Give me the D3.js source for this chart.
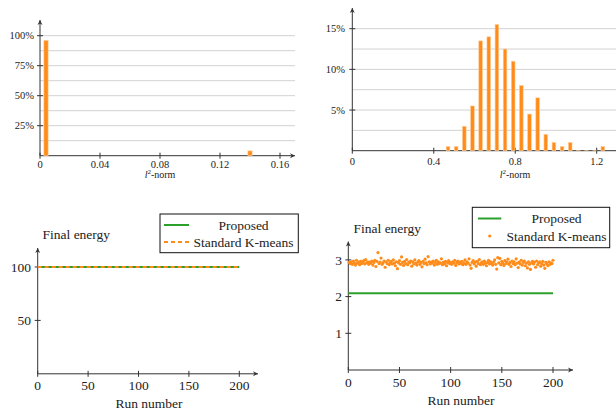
<!DOCTYPE html>
<html>
<head>
<meta charset="utf-8">
<script src="https://cdn.jsdelivr.net/npm/d3@7"></script>
<style>
  body { margin: 0; background: #fff; }
</style>
</head>
<body>
<script>
// histogram of l2-norm, proposed method (percent of runs)
var normBinsA = [0.004, 0.14];
var normPctA = [96, 4];
var normTicksA = [0, 0.04, 0.08, 0.12, 0.16];
var pctTicksA = [25, 50, 75, 100];

// histogram of l2-norm, standard k-means
var normBinsB = [0.47, 0.51, 0.55, 0.59, 0.63, 0.67, 0.71, 0.75, 0.79, 0.83,
                 0.87, 0.91, 0.95, 0.99, 1.03, 1.07, 1.11, 1.15, 1.19, 1.23];
var normPctB = [0.5, 0.5, 3, 5.5, 13.5, 14, 15.5, 12.5, 11, 8,
                4.5, 6.5, 2, 1, 0.5, 1, 0, 0, 0, 0.5];
var normTicksB = [0, 0.4, 0.8, 1.2];
var pctTicksB = [5, 10, 15];

// final energy, first data set
var runEnds = [0, 200];
var energyProposedA = [100, 100];
var energyKmeansA = [100, 100];

// final energy, second data set
var energyProposedB = [2.09, 2.09];
var energyKmeansB = [
  2.93, 2.90, 2.95, 2.88, 2.97, 2.92, 2.86, 2.99, 2.91, 2.94,
  2.87, 2.96, 2.90, 2.93, 2.98, 2.89, 3.01, 2.92, 2.95, 2.88,
  2.94, 2.91, 2.97, 2.86, 2.93, 2.99, 2.82, 2.96, 3.20, 2.90,
  2.94, 3.05, 2.88, 2.92, 2.97, 2.80, 2.95, 2.90, 2.99, 2.87,
  2.93, 2.96, 2.89, 3.00, 2.91, 2.84, 2.95, 2.76, 2.92, 2.98,
  2.88, 3.08, 2.93, 2.85, 2.96, 2.90, 3.01, 2.87, 2.94, 2.92,
  2.97, 2.83, 2.95, 2.89, 3.00, 2.91, 2.86, 2.94, 2.98, 2.88,
  2.93, 2.81, 2.96, 2.90, 3.02, 2.92, 2.87, 3.09, 2.95, 2.89,
  2.94, 2.91, 2.97, 2.86, 2.93, 2.99, 2.88, 2.95, 2.90, 2.92,
  3.03, 2.87, 2.94, 2.89, 2.96, 2.84, 2.92, 2.98, 2.90, 2.93,
  2.88, 2.95, 2.91, 2.99, 2.85, 2.93, 2.97, 2.89, 2.94, 2.90,
  2.96, 2.87, 2.92, 3.00, 2.88, 2.95, 2.91, 3.03, 2.86, 2.77,
  2.93, 2.98, 2.89, 2.94, 2.83, 2.96, 2.90, 3.01, 2.87, 2.92,
  2.95, 2.88, 2.97, 2.91, 2.84, 2.93, 2.99, 2.89, 2.95, 2.90,
  2.86, 2.94, 3.00, 2.88, 2.75, 3.06, 2.92, 3.04, 2.87, 2.96,
  2.91, 2.85, 2.98, 2.90, 2.94, 3.02, 2.88, 2.93, 2.82, 2.97,
  2.90, 2.95, 2.87, 3.03, 2.91, 2.79, 2.94, 2.89, 2.99, 2.86,
  2.93, 2.97, 2.84, 2.91, 2.78, 2.95, 2.88, 2.74, 2.92, 2.96,
  2.89, 2.94, 2.80, 2.97, 2.87, 2.92, 2.95, 2.83, 2.90, 2.96,
  2.86, 2.77, 2.93, 2.89, 2.84, 2.95, 2.88, 2.92, 2.90, 2.99
];
var runTicks = [0, 50, 100, 150, 200];
var energyTicksA = [50, 100];
var energyTicksB = [1, 2, 3];

var orange = "#ff8c1a", green = "#2ca02c", axisCol = "#333", gridCol = "#d2d2d2";

var svg = d3.select("body").append("svg")
    .attr("width", 616).attr("height", 412);

// little arrow heads at the end of the axes
function arrowRight(x, y) {
  svg.append("path").attr("d", "M" + (x - 5) + "," + (y - 2.5) + "L" + x + "," + y + "L" + (x - 5) + "," + (y + 2.5) + "L" + (x - 3.5) + "," + y + "Z")
     .attr("fill", axisCol);
}
function arrowUp(x, y) {
  svg.append("path").attr("d", "M" + (x - 2.5) + "," + (y + 5) + "L" + x + "," + y + "L" + (x + 2.5) + "," + (y + 5) + "L" + x + "," + (y + 3.5) + "Z")
     .attr("fill", axisCol);
}

function drawAxes(o) {
  var g = svg.append("g");
  var x0 = o.x.range()[0], y0 = o.y.range()[0];
  // horizontal grid
  if (o.grid) {
    g.selectAll(".grid").data(o.grid).enter().append("line")
      .attr("x1", x0).attr("x2", o.gridEnd)
      .attr("y1", function(d){ return o.y(d); }).attr("y2", function(d){ return o.y(d); })
      .attr("stroke", gridCol).attr("stroke-width", 1);
  }
  // axis lines
  g.append("line").attr("x1", x0).attr("x2", o.xEnd).attr("y1", y0).attr("y2", y0)
    .attr("stroke", axisCol).attr("stroke-width", 1);
  g.append("line").attr("x1", x0).attr("x2", x0).attr("y1", y0).attr("y2", o.yEnd)
    .attr("stroke", axisCol).attr("stroke-width", 1);
  if (o.xEnd < 612) arrowRight(o.xEnd, y0);
  arrowUp(x0, o.yEnd);
  // x ticks
  g.selectAll(".xt").data(o.xTicks).enter().append("line")
    .attr("x1", function(d){ return o.x(d); }).attr("x2", function(d){ return o.x(d); })
    .attr("y1", y0 - 3).attr("y2", y0 + 3).attr("stroke", axisCol);
  g.selectAll(".xl").data(o.xTicks).enter().append("text")
    .attr("x", function(d){ return o.x(d); }).attr("y", o.xLabelY)
    .attr("text-anchor", "middle").style("font-size", o.fs + "px")
    .text(o.xFmt);
  // y ticks
  g.selectAll(".yt").data(o.yTicks).enter().append("line")
    .attr("x1", x0 - 3).attr("x2", x0 + 3)
    .attr("y1", function(d){ return o.y(d); }).attr("y2", function(d){ return o.y(d); })
    .attr("stroke", axisCol);
  g.selectAll(".yl").data(o.yTicks).enter().append("text")
    .attr("x", o.yLabelX).attr("y", function(d){ return o.y(d); })
    .attr("dy", "0.35em").attr("text-anchor", "end").style("font-size", o.fs + "px")
    .text(o.yFmt);
  return g;
}

function normLabel(x, y) {
  var t = svg.append("text").attr("x", x).attr("y", y).attr("text-anchor", "middle")
    .style("font-size", "10px");
  t.append("tspan").style("font-style", "italic").text("l");
  t.append("tspan").attr("dy", -4).style("font-size", "7px").text("2");
  t.append("tspan").attr("dy", 4).text("-norm");
}

// ---- top left histogram ----
var xA = d3.scaleLinear().domain([0, 0.16]).range([40, 280]);
var yA = d3.scaleLinear().domain([0, 100]).range([155.7, 35.7]);
drawAxes({x: xA, y: yA, xEnd: 295, yEnd: 20, gridEnd: 295,
  grid: d3.range(12.5, 100.1, 12.5), xTicks: normTicksA, yTicks: pctTicksA,
  xLabelY: 167.5, yLabelX: 34, fs: 10.5,
  xFmt: function(d){ return d === 0 ? "0" : d3.format(".2f")(d); },
  yFmt: function(d){ return d + "%"; }});
svg.append("g").selectAll("rect").data(normBinsA).enter().append("rect")
  .attr("x", function(d){ return xA(d) - 2.1; }).attr("width", 4.2)
  .attr("y", function(d, i){ return yA(normPctA[i]); })
  .attr("height", function(d, i){ return yA(0) - yA(normPctA[i]); })
  .attr("fill", orange).attr("stroke", "#ffc98f").attr("stroke-width", 0.6);
normLabel(160, 177.5);

// ---- top right histogram ----
var xB = d3.scaleLinear().domain([0, 1.2]).range([352.3, 596.7]);
var yB = d3.scaleLinear().domain([0, 15]).range([150.7, 28.7]);
drawAxes({x: xB, y: yB, xEnd: 616, yEnd: 8, gridEnd: 616,
  grid: d3.range(2.5, 15.1, 2.5), xTicks: normTicksB, yTicks: pctTicksB,
  xLabelY: 165, yLabelX: 345, fs: 10.5,
  xFmt: function(d){ return d === 0 ? "0" : d3.format(".1f")(d); },
  yFmt: function(d){ return d + "%"; }});
svg.append("g").selectAll("rect").data(normBinsB).enter().append("rect")
  .attr("x", function(d){ return xB(d) - 1.8; }).attr("width", 3.6)
  .attr("y", function(d, i){ return yB(normPctB[i]); })
  .attr("height", function(d, i){ return Math.max(yB(0) - yB(normPctB[i]), 0.1); })
  .attr("fill", orange).attr("stroke", "#ffc98f").attr("stroke-width", 0.6);
normLabel(515, 178);

// ---- bottom left: final energy ----
var xC = d3.scaleLinear().domain([0, 200]).range([37.7, 239.3]);
var yC = d3.scaleLinear().domain([0, 100]).range([373.8, 267]);
drawAxes({x: xC, y: yC, xEnd: 258, yEnd: 248,
  xTicks: runTicks, yTicks: energyTicksA,
  xLabelY: 390, yLabelX: 31, fs: 13.5,
  xFmt: function(d){ return d; }, yFmt: function(d){ return d; }});
var lineC = d3.line().x(function(d){ return xC(d[0]); }).y(function(d){ return yC(d[1]); });
svg.append("path").attr("d", lineC(runEnds.map(function(r, i){ return [r, energyProposedA[i]]; })))
  .attr("stroke", green).attr("stroke-width", 2).attr("fill", "none");
svg.append("path").attr("d", lineC(runEnds.map(function(r, i){ return [r, energyKmeansA[i]]; })))
  .attr("stroke", orange).attr("stroke-width", 2).attr("stroke-dasharray", "4,3").attr("fill", "none");
svg.append("text").attr("x", 42.5).attr("y", 239).style("font-size", "13.5px").text("Final energy");
svg.append("text").attr("x", 149).attr("y", 408).attr("text-anchor", "middle").style("font-size", "13.5px").text("Run number");
// legend
var legC = svg.append("g");
legC.append("rect").attr("x", 160).attr("y", 214).attr("width", 138.3).attr("height", 38.7)
  .attr("fill", "#fff").attr("stroke", "#111").attr("stroke-width", 1);
legC.append("line").attr("x1", 164).attr("x2", 189).attr("y1", 225).attr("y2", 225)
  .attr("stroke", green).attr("stroke-width", 2);
legC.append("line").attr("x1", 164).attr("x2", 189).attr("y1", 242).attr("y2", 242)
  .attr("stroke", orange).attr("stroke-width", 2).attr("stroke-dasharray", "4,3");
legC.append("text").attr("x", 243.5).attr("y", 225).attr("dy", "0.35em").attr("text-anchor", "middle")
  .style("font-size", "13.5px").text("Proposed");
legC.append("text").attr("x", 243.5).attr("y", 242).attr("dy", "0.35em").attr("text-anchor", "middle")
  .style("font-size", "13.5px").text("Standard K-means");

// ---- bottom right: final energy ----
var xD = d3.scaleLinear().domain([0, 200]).range([348.3, 553]);
var yD = d3.scaleLinear().domain([0, 1]).range([370, 333.3]);
drawAxes({x: xD, y: yD, xEnd: 573, yEnd: 241.5,
  xTicks: runTicks, yTicks: energyTicksB,
  xLabelY: 387, yLabelX: 342, fs: 13.5,
  xFmt: function(d){ return d; }, yFmt: function(d){ return d; }});
var lineD = d3.line().x(function(d){ return xD(d[0]); }).y(function(d){ return yD(d[1]); });
svg.append("path").attr("d", lineD(runEnds.map(function(r, i){ return [r, energyProposedB[i]]; })))
  .attr("stroke", green).attr("stroke-width", 2).attr("fill", "none");
svg.append("g").selectAll("circle").data(energyKmeansB).enter().append("circle")
  .attr("cx", function(d, i){ return xD(i + 1); }).attr("cy", function(d){ return yD(d); })
  .attr("r", 1.6).attr("fill", orange);
svg.append("text").attr("x", 353.5).attr("y", 233).style("font-size", "13.5px").text("Final energy");
svg.append("text").attr("x", 461).attr("y", 405).attr("text-anchor", "middle").style("font-size", "13.5px").text("Run number");
var legD = svg.append("g");
legD.append("rect").attr("x", 472.3).attr("y", 207.3).attr("width", 137.4).attr("height", 40.4)
  .attr("fill", "#fff").attr("stroke", "#111").attr("stroke-width", 1);
legD.append("line").attr("x1", 478).attr("x2", 501.3).attr("y1", 218.5).attr("y2", 218.5)
  .attr("stroke", green).attr("stroke-width", 2);
legD.append("circle").attr("cx", 489.7).attr("cy", 236).attr("r", 1.6).attr("fill", orange);
legD.append("text").attr("x", 556.5).attr("y", 218.5).attr("dy", "0.35em").attr("text-anchor", "middle")
  .style("font-size", "13.5px").text("Proposed");
legD.append("text").attr("x", 556.5).attr("y", 236).attr("dy", "0.35em").attr("text-anchor", "middle")
  .style("font-size", "13.5px").text("Standard K-means");

// serif type everywhere, set on each text so nothing falls back to sans
svg.selectAll("text").style("font-family", "'Liberation Serif'").style("fill", "#222");
</script>
</body>
</html>
